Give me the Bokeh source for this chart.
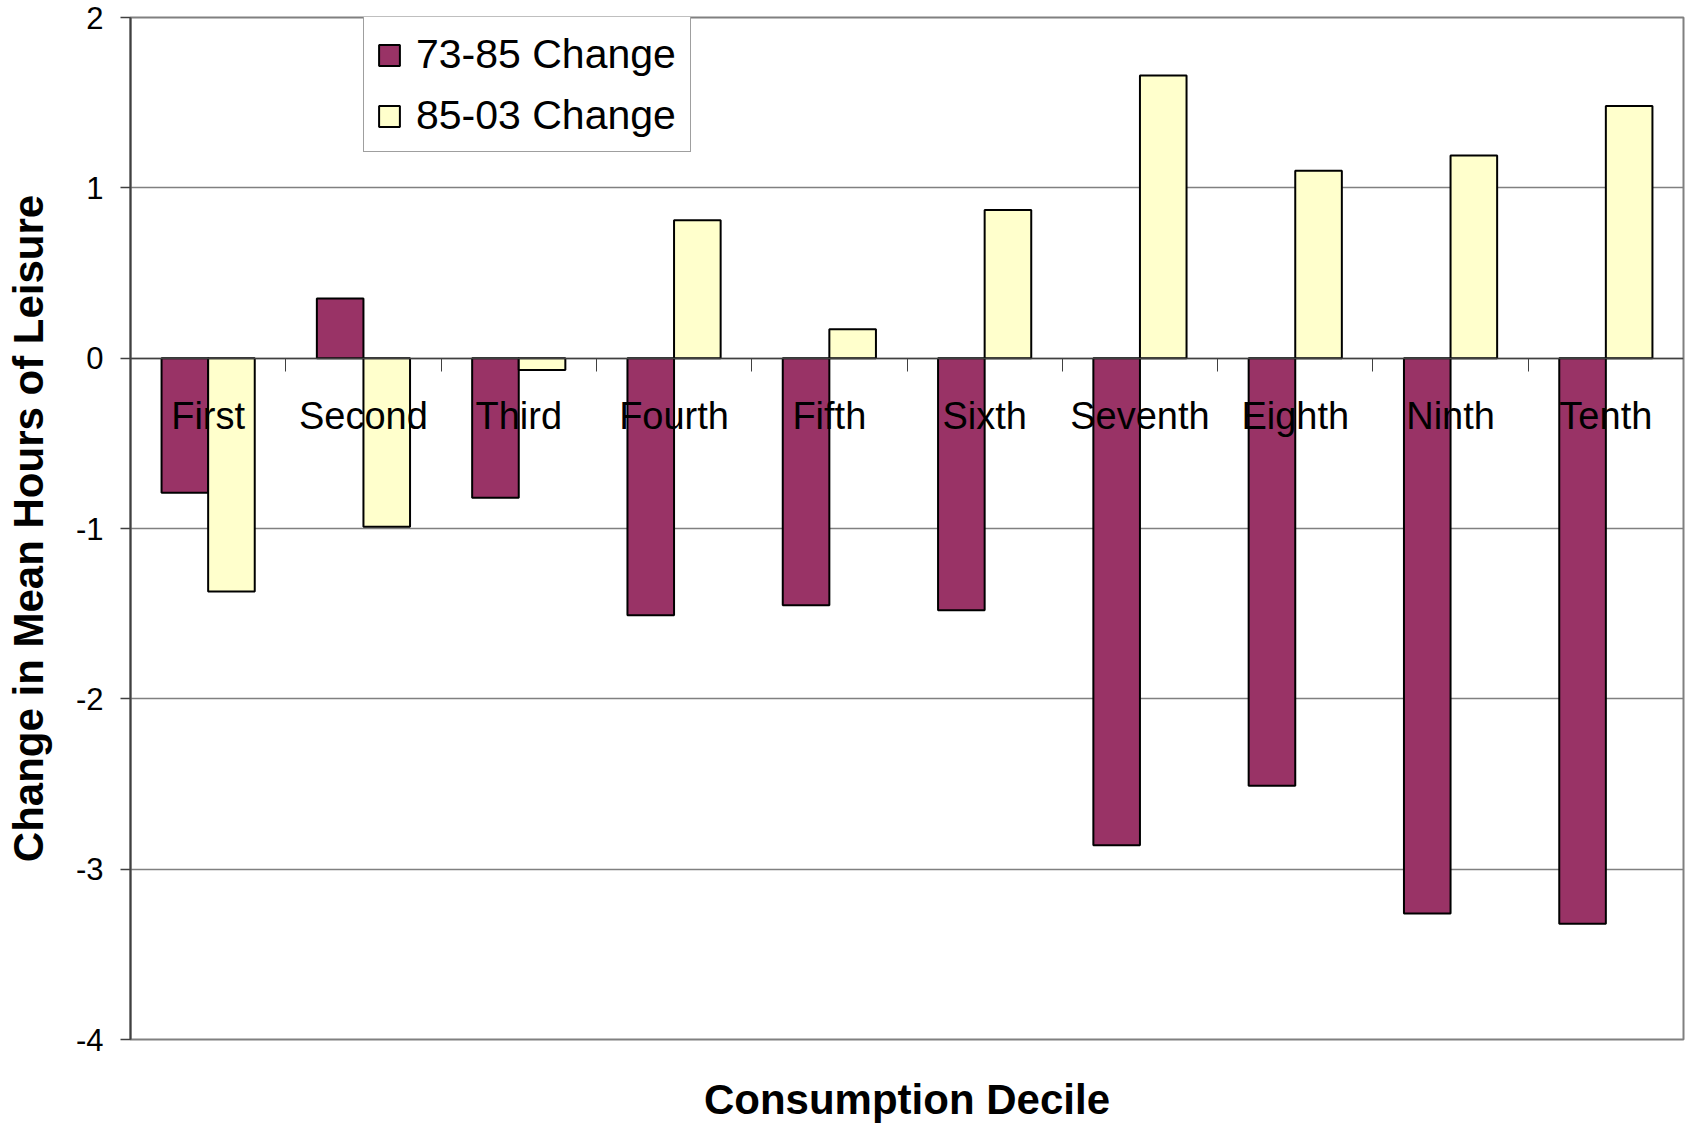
from bokeh.plotting import figure
from bokeh.models import (Range1d, FixedTicker, Legend, LegendItem, LinearAxis,
                          ColumnDataSource)
from bokeh.transform import dodge
from bokeh.embed import file_html
from bokeh.resources import INLINE

# ---- data ----
deciles = ["First", "Second", "Third", "Fourth", "Fifth",
           "Sixth", "Seventh", "Eighth", "Ninth", "Tenth"]
change_73_85 = [-0.79, 0.35, -0.82, -1.51, -1.45, -1.48, -2.86, -2.51, -3.26, -3.32]
change_85_03 = [-1.37, -0.99, -0.07, 0.81, 0.17, 0.87, 1.66, 1.10, 1.19, 1.48]
series_names = ["73-85 Change", "85-03 Change"]
y_ticks = [-4, -3, -2, -1, 0, 1, 2]
y_tick_labels = ["-4", "-3", "-2", "-1", "0", "1", "2"]
x_title = "Consumption Decile"
y_title = "Change in Mean Hours of Leisure"

FONT = "Liberation Sans"
MAROON = "#993366"
CREAM = "#FFFFCC"

positions = list(range(1, len(deciles) + 1))
src = ColumnDataSource(dict(x=positions, a=change_73_85, b=change_85_03))

p = figure(width=1690, height=1125,
           x_range=Range1d(0.5, len(deciles) + 0.5),
           y_range=Range1d(min(y_ticks), max(y_ticks)),
           output_backend="svg", toolbar_location=None,
           min_border_left=130, min_border_right=7,
           min_border_top=17, min_border_bottom=85,
           background_fill_color="white", border_fill_color="white")

r1 = p.vbar(x=dodge("x", -0.15, range=p.x_range), top="a", bottom=0, width=0.3,
            fill_color=MAROON, line_color="black", line_width=2, source=src)
r2 = p.vbar(x=dodge("x", 0.15, range=p.x_range), top="b", bottom=0, width=0.3,
            fill_color=CREAM, line_color="black", line_width=2, source=src)

# x axis at y = 0, labels at category centres, ticks at category boundaries
xa = p.xaxis[0]
xa.fixed_location = 0
xa.ticker = FixedTicker(ticks=positions,
                        minor_ticks=[v + 0.5 for v in positions[:-1]])
xa.major_label_overrides = {v: name for v, name in zip(positions, deciles)}
xa.major_tick_line_color = None
xa.minor_tick_out = 13
xa.minor_tick_in = 0
xa.minor_tick_line_color = "#404040"
xa.minor_tick_line_width = 1
xa.axis_line_color = "#404040"
xa.axis_line_width = 1.5
xa.major_label_text_font = FONT
xa.major_label_text_font_size = "38px"
xa.major_label_text_color = "black"
xa.major_label_standoff = 24

# x-axis title carried by a bare axis at the bottom of the plot
xt = LinearAxis(ticker=FixedTicker(ticks=[]), axis_line_color=None,
                major_tick_line_color=None, minor_tick_line_color=None,
                major_tick_out=0, major_tick_in=0, minor_tick_out=0,
                major_label_standoff=0,
                axis_label=x_title, axis_label_text_font=FONT,
                axis_label_text_font_size="42px",
                axis_label_text_font_style="bold",
                axis_label_text_color="black", axis_label_standoff=36)
p.add_layout(xt, "below")

ya = p.yaxis[0]
ya.ticker = FixedTicker(ticks=y_ticks)
ya.major_label_overrides = {v: s for v, s in zip(y_ticks, y_tick_labels)}
ya.minor_tick_line_color = None
ya.major_tick_out = 10
ya.major_tick_in = 0
ya.major_tick_line_color = "#404040"
ya.major_tick_line_width = 1.5
ya.axis_line_color = "#404040"
ya.axis_line_width = 2
ya.major_label_text_font = FONT
ya.major_label_text_font_size = "31px"
ya.major_label_text_color = "black"
ya.major_label_standoff = 17
ya.axis_label = y_title
ya.axis_label_text_font = FONT
ya.axis_label_text_font_size = "42px"
ya.axis_label_text_font_style = "bold"
ya.axis_label_text_color = "black"
ya.axis_label_standoff = 21

p.xgrid.visible = False
p.ygrid.ticker = FixedTicker(ticks=y_ticks)
p.ygrid.grid_line_color = "#808080"
p.ygrid.grid_line_width = 1.5

p.outline_line_color = "#808080"
p.outline_line_width = 2

legend = Legend(items=[LegendItem(label=series_names[0], renderers=[r1]),
                       LegendItem(label=series_names[1], renderers=[r2])],
                location=(233, 887), orientation="vertical",
                title=" ", title_text_font_size="2px", title_standoff=8,
                border_line_color="#404040", border_line_width=1.5,
                background_fill_color="white", background_fill_alpha=1,
                padding=12, spacing=14, margin=0,
                glyph_width=26, glyph_height=26, label_standoff=14,
                label_text_font=FONT, label_text_font_size="41px",
                label_height=40, label_width=262, label_text_color="black")
p.add_layout(legend, "center")

open("out.html", "w").write(file_html(p, INLINE))
